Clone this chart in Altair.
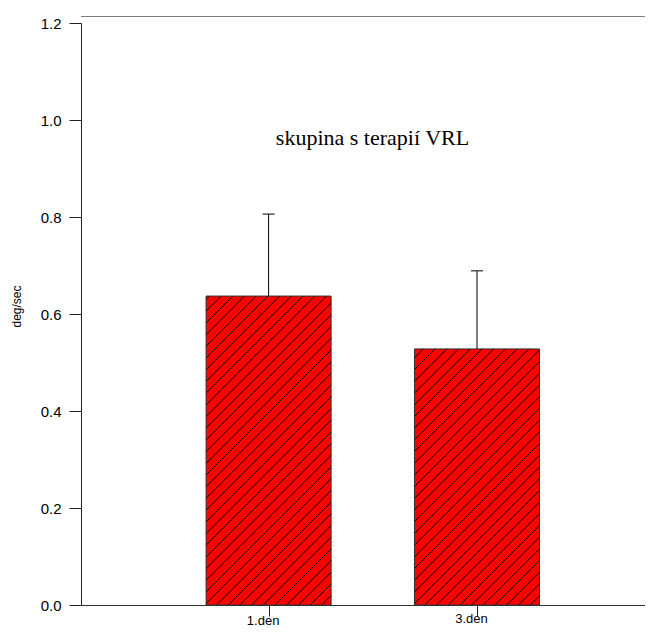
import altair as alt
import pandas as pd

# ---- data ----
categories = ["1.den", "3.den"]
means = [0.637, 0.528]
errors = [0.169, 0.161]
y_ticks = [0.0, 0.2, 0.4, 0.6, 0.8, 1.0, 1.2]
title_text = "skupina s terapií VRL"
y_title = "deg/sec"

# ---- layout / style ----
W, H = 564, 582              # plot area (px)
YMAX = 1.2
X_MIN = -0.9002              # x domain (category index units)
KX = 208.4                   # px per category step
X_MAX = X_MIN + W / KX
KY = H / YMAX                # px per y unit
HALF_BAR = 0.3               # half bar width in category units
CAP_HALF = 6 / KX            # half error-cap width
HATCH_STEP = 11.7            # vertical spacing of hatch lines (px)
HATCH_PHASE = 9.4
RED = "#ff0000"

df = pd.DataFrame({
    "i": list(range(len(categories))),
    "cat": categories,
    "mean": means,
    "err": errors,
})

base = alt.Chart(df).transform_calculate(
    upper="datum.mean + datum.err",
    L=f"datum.i - {HALF_BAR}",
    R=f"datum.i + {HALF_BAR}",
    c0=f"datum.i - {CAP_HALF}",
    c1=f"datum.i + {CAP_HALF}",
)

label_expr = "[" + ",".join(f"'{c}'" for c in categories) + "][datum.value]"

x_scale = alt.Scale(domain=[X_MIN, X_MAX], nice=False, zero=False)
x_axis = alt.Axis(
    values=list(range(len(categories))),
    labelExpr=label_expr,
    title=None,
    grid=False,
    labelAngle=0,
    tickSize=11,
    tickColor="#222222",
    domainColor="#333333",
    labelFont="Liberation Sans",
    labelFontSize=13,
    labelColor="#000000",
    labelOffset=-6,
    labelBaseline="alphabetic",
    labelPadding={"condition": {"test": "datum.value == 0", "value": 8}, "value": 6.5},
)

y_axis = alt.Axis(
    values=y_ticks,
    format=".1f",
    tickSize=12,
    labelPadding=8,
    labelFont="Liberation Sans",
    labelFontSize=15,
    labelColor="#000000",
    tickColor="#222222",
    domainColor="#222222",
    grid=False,
    title=y_title,
    titleFont="Liberation Sans",
    titleFontSize=12,
    titleFontWeight="normal",
    titleColor="#000000",
    titleX=-58,
    titleY=283,
)
y_scale = alt.Scale(domain=[0, YMAX], nice=False)

bars = base.mark_bar(color=RED, strokeWidth=0).encode(
    x=alt.X("L:Q", scale=x_scale, axis=x_axis),
    x2="R:Q",
    y=alt.Y("mean:Q", scale=y_scale, axis=y_axis),
    y2=alt.datum(0),
)

# diagonal '/' hatch lines, generated from each bar's value and clipped to the bar
w_px = 2 * HALF_BAR * KX
hatch = (
    base.transform_calculate(k="sequence(0, 80)")
    .transform_flatten(["k"])
    .transform_calculate(
        h=f"datum.mean * {KY}",
        cc=f"-{w_px} + {HATCH_PHASE} + datum.k * {HATCH_STEP}",
    )
    .transform_calculate(
        u0="max(0, -datum.cc)",
        u1=f"min({w_px}, datum.h - datum.cc)",
    )
    .transform_filter("datum.u1 > datum.u0")
    .transform_calculate(
        hx0=f"datum.L + datum.u0 / {KX}",
        hx1=f"datum.L + datum.u1 / {KX}",
        hy0=f"(datum.u0 + datum.cc) / {KY}",
        hy1=f"(datum.u1 + datum.cc) / {KY}",
    )
    .mark_rule(color="#000000", strokeWidth=1)
    .encode(
        x=alt.X("hx0:Q", scale=x_scale, axis=x_axis),
        x2="hx1:Q",
        y=alt.Y("hy0:Q", scale=y_scale, axis=y_axis),
        y2="hy1:Q",
    )
)

outline = base.mark_bar(fillOpacity=0, stroke="#333333", strokeWidth=1).encode(
    x=alt.X("L:Q", scale=x_scale, axis=x_axis),
    x2="R:Q",
    y=alt.Y("mean:Q", scale=y_scale, axis=y_axis),
    y2=alt.datum(0),
)

err_rule = base.mark_rule(color="#000000", strokeWidth=1).encode(
    x=alt.X("i:Q", scale=x_scale, axis=x_axis),
    y=alt.Y("mean:Q", scale=y_scale, axis=y_axis),
    y2="upper:Q",
)
err_cap = base.mark_rule(color="#000000", strokeWidth=1).encode(
    x=alt.X("c0:Q", scale=x_scale, axis=x_axis),
    x2="c1:Q",
    y=alt.Y("upper:Q", scale=y_scale, axis=y_axis),
)

title = alt.Chart(pd.DataFrame({"t": [title_text]})).mark_text(
    font="Liberation Serif", fontSize=22, align="center", baseline="alphabetic", color="#000000"
).encode(text="t:N", x=alt.value(291.5), y=alt.value(122))

top_line = alt.Chart(pd.DataFrame({"t": [0]})).mark_rule(color="#808080", strokeWidth=1.2).encode(
    x=alt.value(0), x2=alt.value(W), y=alt.value(-6.5)
)

chart = (
    alt.layer(bars, hatch, outline, err_rule, err_cap, title, top_line)
    .properties(
        width=W,
        height=H,
        padding={"left": 73, "top": 15, "right": 0, "bottom": 22},
        autosize="none",
        background="white",
    )
    .configure_view(stroke=None)
)

chart.save("out.html", embed_options={"renderer": "svg", "actions": False})
